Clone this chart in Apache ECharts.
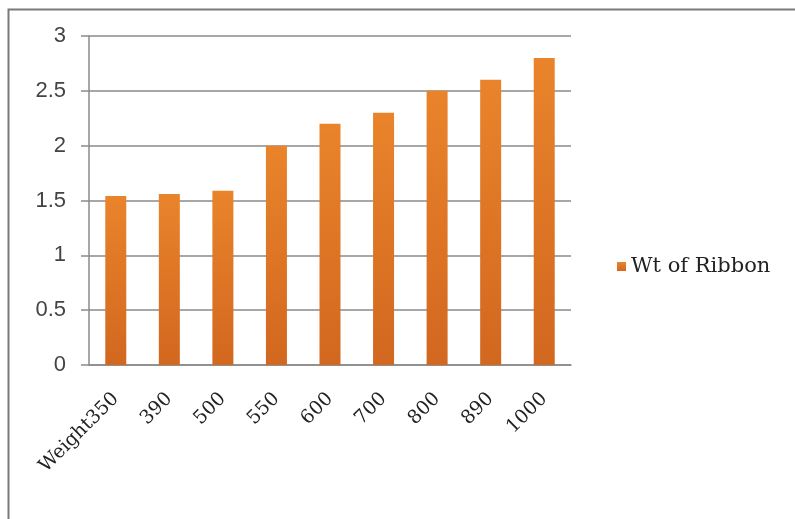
<!DOCTYPE html>
<html>
<head>
<meta charset="utf-8">
<style>
  html, body { margin: 0; padding: 0; background: #fff; }
  #chart { width: 795px; height: 519px; }
</style>
<script src="https://cdn.jsdelivr.net/npm/echarts@6/dist/echarts.min.js"></script>
</head>
<body>
<div id="chart"></div>
<script>
// data
var categories = ["Weight350", "390", "500", "550", "600", "700", "800", "890", "1000"];
var ribbonWeight = [1.54, 1.56, 1.59, 2.0, 2.2, 2.3, 2.5, 2.6, 2.8];
var seriesName = "Wt of Ribbon";

var chart = echarts.init(document.getElementById("chart"), null, { renderer: "canvas" });

var barColor = new echarts.graphic.LinearGradient(0, 0, 0, 1, [
  { offset: 0, color: "#E9842B" },
  { offset: 1, color: "#D2671F" }
]);

chart.setOption({
  animation: false,
  backgroundColor: "#fff",
  graphic: [
    {
      type: "rect",
      shape: { x: 8.5, y: 9.5, width: 800, height: 520 },
      style: { fill: "none", stroke: "#7a7a7a", lineWidth: 2 },
      silent: true
    }
  ],
  grid: {
    left: 89,
    top: 36,
    width: 482,
    height: 329
  },
  legend: {
    data: [seriesName],
    orient: "vertical",
    left: 612,
    top: 251,
    itemWidth: 9,
    itemHeight: 9,
    itemGap: 6,
    icon: "rect",
    textStyle: {
      fontFamily: "DejaVu Serif",
      fontSize: 21,
      color: "#222"
    }
  },
  xAxis: {
    type: "category",
    data: categories,
    axisLine: { lineStyle: { color: "#8a8a8a", width: 1.5 } },
    axisTick: { length: 8, lineStyle: { color: "#8a8a8a", width: 1.5 } },
    axisLabel: {
      rotate: 45,
      margin: 31,
      fontFamily: "DejaVu Serif",
      fontSize: 19,
      color: "#222"
    }
  },
  yAxis: {
    type: "value",
    min: 0,
    max: 3,
    interval: 0.5,
    axisLine: { show: true, lineStyle: { color: "#8a8a8a", width: 1.5 } },
    axisTick: { show: true, length: 8, lineStyle: { color: "#8a8a8a", width: 1.5 } },
    splitLine: { lineStyle: { color: "#8a8a8a", width: 1.5 } },
    axisLabel: {
      margin: 23,
      fontFamily: "Liberation Sans",
      fontSize: 22,
      color: "#444"
    }
  },
  series: [
    {
      name: seriesName,
      type: "bar",
      data: ribbonWeight,
      barWidth: 21,
      itemStyle: { color: barColor }
    }
  ]
});
</script>
</body>
</html>
